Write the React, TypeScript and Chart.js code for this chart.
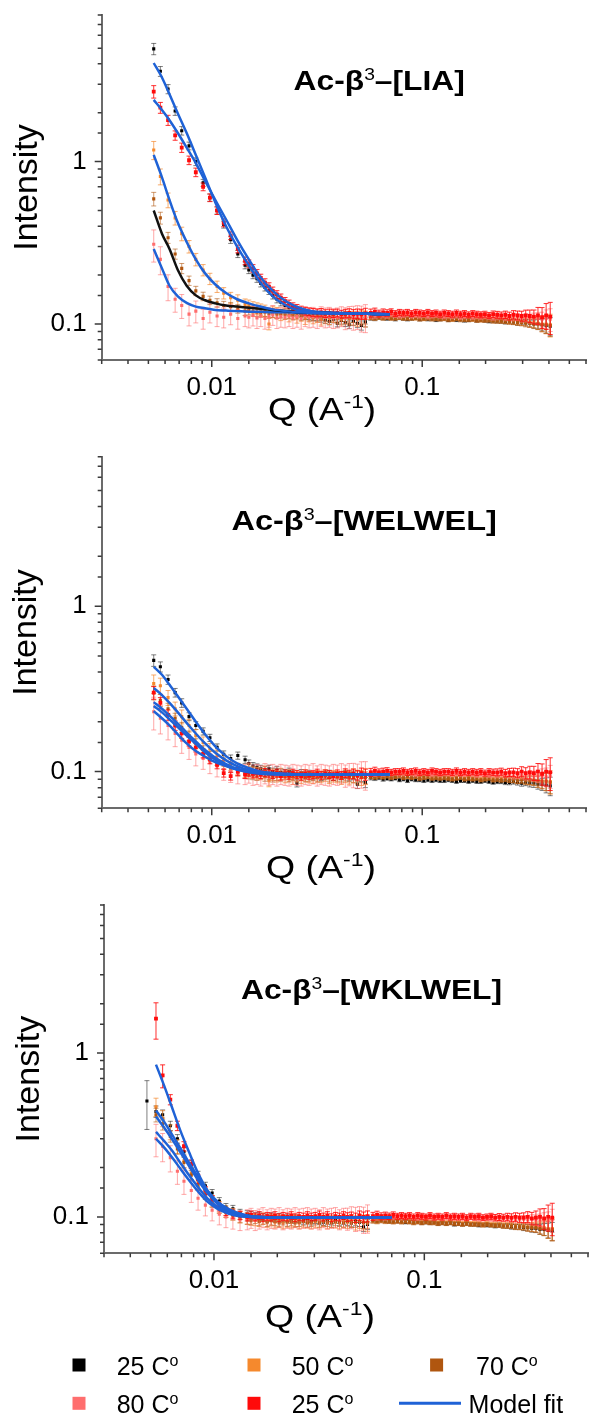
import React, { useEffect, useRef } from 'react';
import { Chart, registerables } from 'chart.js';

Chart.register(...registerables);

const FONT = "'Liberation Sans', Arial, Helvetica, sans-serif";

// ---------- Q grids (Å^-1) ----------
const qLow = [0.0048, 0.0053, 0.0057, 0.0062, 0.0067, 0.0072, 0.0078, 0.0084, 0.0091, 0.0098, 0.0106, 0.0114, 0.0123, 0.0133, 0.0144,
  0.015, 0.0157, 0.0164, 0.0171, 0.0179, 0.0187, 0.0195, 0.0204, 0.0213, 0.0223, 0.0233, 0.0243, 0.0254, 0.0266, 0.0278,
  0.029, 0.0303, 0.0317, 0.0331, 0.0346, 0.0362, 0.0378, 0.0395, 0.0413, 0.0431, 0.045, 0.0471, 0.0492, 0.0514, 0.0537];
const qHigh = [0.057, 0.0596, 0.0623, 0.0652, 0.0681, 0.0712, 0.0745, 0.0779, 0.0814, 0.0851, 0.089, 0.0931, 0.0973, 0.1018, 0.1064,
  0.1113, 0.1163, 0.1216, 0.1272, 0.133, 0.139, 0.1454, 0.152, 0.1589, 0.1662, 0.1738, 0.1817, 0.19, 0.1986, 0.2077,
  0.2172, 0.2271, 0.2374, 0.2483, 0.2596, 0.2714, 0.2838, 0.2968, 0.3103, 0.3245, 0.3393, 0.3548, 0.371, 0.3879, 0.4056];
const qFit = [0.0053, 0.0058, 0.0063, 0.0069, 0.0076, 0.0084, 0.0093, 0.0104, 0.0117, 0.0132, 0.015, 0.017, 0.0195, 0.0225, 0.026, 0.03, 0.035, 0.042, 0.05, 0.06, 0.07];

// relative error scaling along Q
const errLowScale = [3.0, 1.6, 1.4, 1.3, 1.2, 1.2, 1.1, 1.1, 1.0, 1.0, 1.0, 1.0, 1.0, 1.0, 1.0,
  1.0, 1.0, 1.0, 1.0, 1.0, 1.0, 1.0, 1.0, 1.0, 1.0, 1.0, 1.0, 1.0, 1.0, 1.0,
  1.0, 1.0, 1.0, 1.0, 1.0, 1.0, 1.0, 1.0, 1.0, 1.1, 1.1, 1.2, 1.2, 1.3, 1.4];
const errHighScale = [0.8, 0.75, 0.7, 0.7, 0.65, 0.6, 0.6, 0.6, 0.6, 0.6, 0.6, 0.6, 0.6, 0.6, 0.6,
  0.6, 0.6, 0.6, 0.6, 0.6, 0.6, 0.6, 0.6, 0.6, 0.6, 0.6, 0.6, 0.6, 0.6, 0.6,
  0.65, 0.7, 0.7, 0.75, 0.8, 0.85, 0.9, 1.0, 1.1, 1.25, 1.4, 1.7, 2.1, 2.6, 3.2];

// ---------- series meta ----------
const seriesLabels = ['25 C', '50 C', '70 C', '80 C', '25 C'];
const pointColors = ['#000000', '#f5892d', '#b0560f', '#ff6e6e', '#ff0a0a'];
const errColors = ['rgba(0,0,0,0.5)', 'rgba(245,137,45,0.7)', 'rgba(176,86,15,0.6)', 'rgba(255,110,110,0.6)', 'rgba(255,10,10,0.85)'];
const relErrLow = [0.05, 0.08, 0.06, 0.14, 0.055];
const relErrHigh = [0.04, 0.05, 0.045, 0.05, 0.07];
const pointSizes = [2.2, 2.2, 2.2, 2.2, 2.7];
const fitBlue = '#1f62d6';
const fitLabel = 'Model fit';

// ---------- Panel 1: Ac-β3–[LIA] ----------
const lia25Low = [null, 4.95, 3.6, 2.8, 2.05, 1.55, 1.25, 1.0, 0.74, 0.6, 0.5, 0.41, 0.33, 0.27, 0.23,
  0.215, 0.2, 0.19, 0.178, 0.168, 0.16, 0.15, 0.142, 0.136, 0.13, 0.126, 0.121, 0.118, 0.116, 0.113,
  0.112, 0.11, 0.111, 0.108, 0.106, 0.104, 0.107, 0.101, 0.105, 0.102, 0.099, 0.104, 0.101, 0.098, 0.103];
const lia25High = [0.109, 0.108, 0.11, 0.109, 0.108, 0.109, 0.107, 0.109, 0.108, 0.107, 0.108, 0.109, 0.107, 0.108, 0.107,
  0.108, 0.106, 0.107, 0.108, 0.106, 0.107, 0.106, 0.107, 0.105, 0.106, 0.107, 0.105, 0.106, 0.105, 0.104,
  0.105, 0.104, 0.104, 0.103, 0.104, 0.103, 0.102, 0.103, 0.102, 0.101, 0.1, 0.1, 0.099, 0.098, 0.097];
const lia50Low = [null, 1.18, 0.81, 0.58, 0.45, 0.36, 0.3, 0.25, 0.215, 0.19, 0.17, 0.155, 0.145, 0.14, 0.132,
  0.13, 0.127, 0.125, 0.123, 0.121, 0.1, 0.119, 0.117, 0.114, 0.116, 0.112, 0.115, 0.11, 0.113, 0.108,
  0.112, 0.109, 0.111, 0.107, 0.11, 0.108, 0.111, 0.109, 0.107, 0.11, 0.108, 0.109, 0.107, 0.11, 0.108];
const lia50High = [0.111, 0.11, 0.111, 0.11, 0.111, 0.11, 0.109, 0.11, 0.111, 0.109, 0.11, 0.109, 0.11, 0.108, 0.109,
  0.11, 0.108, 0.109, 0.108, 0.109, 0.107, 0.108, 0.109, 0.107, 0.108, 0.107, 0.108, 0.106, 0.107, 0.106,
  0.107, 0.105, 0.106, 0.105, 0.105, 0.104, 0.104, 0.103, 0.103, 0.102, 0.102, 0.101, 0.1, 0.1, 0.099];
const lia70Low = [null, 0.59, 0.45, 0.34, 0.27, 0.22, 0.185, 0.16, 0.148, 0.14, 0.135, 0.13, 0.128, 0.124, 0.12,
  0.121, 0.119, 0.118, 0.117, 0.118, 0.116, 0.117, 0.115, 0.116, 0.114, 0.115, 0.113, 0.114, 0.112, 0.113,
  0.111, 0.112, 0.11, 0.112, 0.111, 0.11, 0.111, 0.109, 0.11, 0.111, 0.109, 0.11, 0.108, 0.11, 0.109];
const lia70High = [0.11, 0.109, 0.11, 0.109, 0.11, 0.108, 0.109, 0.11, 0.108, 0.109, 0.108, 0.109, 0.107, 0.108, 0.109,
  0.107, 0.108, 0.107, 0.108, 0.106, 0.107, 0.108, 0.106, 0.107, 0.106, 0.107, 0.105, 0.106, 0.105, 0.106,
  0.104, 0.105, 0.104, 0.104, 0.103, 0.103, 0.102, 0.102, 0.101, 0.101, 0.1, 0.1, 0.099, 0.099, 0.098];
const lia80Low = [null, 0.31, 0.25, 0.17, 0.142, 0.13, 0.115, 0.12, 0.108, 0.118, 0.112, 0.11, 0.115, 0.108, 0.112,
  0.11, 0.113, 0.109, 0.112, 0.108, 0.111, 0.114, 0.109, 0.111, 0.11, 0.112, 0.109, 0.111, 0.108, 0.112,
  0.11, 0.111, 0.109, 0.112, 0.11, 0.111, 0.109, 0.11, 0.112, 0.109, 0.111, 0.11, 0.111, 0.109, 0.11];
const lia80High = [0.113, 0.112, 0.114, 0.113, 0.112, 0.114, 0.113, 0.112, 0.113, 0.114, 0.112, 0.113, 0.112, 0.113, 0.111,
  0.112, 0.113, 0.112, 0.111, 0.112, 0.111, 0.112, 0.11, 0.111, 0.112, 0.11, 0.111, 0.11, 0.111, 0.11,
  0.109, 0.11, 0.111, 0.109, 0.11, 0.109, 0.11, 0.108, 0.109, 0.108, 0.109, 0.108, 0.107, 0.108, 0.107];
const lia25bLow = [null, 2.7, 2.15, 1.8, 1.45, 1.22, 1.02, 0.86, 0.7, 0.6, 0.5, 0.42, 0.35, 0.29, 0.245,
  0.235, 0.22, 0.205, 0.192, 0.18, 0.17, 0.16, 0.152, 0.145, 0.138, 0.133, 0.128, 0.125, 0.122, 0.12,
  0.119, 0.118, 0.117, 0.118, 0.116, 0.117, 0.116, 0.117, 0.115, 0.116, 0.117, 0.115, 0.116, 0.115, 0.116];
const lia25bHigh = [0.117, 0.119, 0.116, 0.118, 0.117, 0.119, 0.116, 0.118, 0.117, 0.118, 0.116, 0.118, 0.117, 0.116, 0.118,
  0.116, 0.117, 0.115, 0.117, 0.116, 0.115, 0.117, 0.115, 0.116, 0.114, 0.116, 0.115, 0.114, 0.115, 0.113,
  0.115, 0.114, 0.113, 0.114, 0.112, 0.114, 0.113, 0.112, 0.113, 0.112, 0.111, 0.113, 0.11, 0.113, 0.111];
const liaFit25 = [4.05, 3.3, 2.6, 1.98, 1.5, 1.1, 0.8, 0.56, 0.4, 0.3, 0.23, 0.18, 0.148, 0.13, 0.121, 0.118, 0.117, 0.116, 0.116, 0.115, 0.115];
const liaFit50 = [1.1, 0.8, 0.58, 0.42, 0.32, 0.25, 0.205, 0.175, 0.155, 0.142, 0.134, 0.128, 0.123, 0.12, 0.118, 0.117, 0.116, 0.116, 0.116, 0.115, 0.115];
const liaFit70 = [0.5, 0.36, 0.29, 0.215, 0.172, 0.15, 0.14, 0.134, 0.13, 0.128, 0.126, 0.124, 0.122, 0.12, 0.118, 0.117, 0.117, 0.116, 0.116, 0.115, 0.115];
const liaFit80 = [0.29, 0.22, 0.172, 0.148, 0.135, 0.128, 0.125, 0.122, 0.121, 0.12, 0.119, 0.119, 0.118, 0.118, 0.117, 0.117, 0.117, 0.116, 0.116, 0.115, 0.115];
const liaFit25b = [2.4, 2.08, 1.8, 1.5, 1.22, 0.98, 0.76, 0.58, 0.44, 0.33, 0.25, 0.195, 0.16, 0.138, 0.126, 0.12, 0.118, 0.117, 0.116, 0.116, 0.115];

// ---------- Panel 2: Ac-β3–[WELWEL] ----------
const wel25Low = [null, 0.47, 0.43, 0.36, 0.3, 0.26, 0.215, 0.19, 0.175, 0.16, 0.14, 0.127, 0.12, 0.125, 0.118,
  0.112, 0.108, 0.106, 0.104, 0.102, 0.104, 0.1, 0.102, 0.099, 0.098, 0.1, 0.097, 0.085, 0.098, 0.095,
  0.097, 0.094, 0.096, 0.093, 0.095, 0.097, 0.093, 0.095, 0.094, 0.096, 0.093, 0.095, 0.084, 0.093, 0.086];
const wel25High = [0.092, 0.091, 0.092, 0.09, 0.091, 0.09, 0.091, 0.089, 0.09, 0.088, 0.09, 0.089, 0.089, 0.088, 0.089,
  0.088, 0.089, 0.088, 0.088, 0.089, 0.088, 0.087, 0.088, 0.088, 0.087, 0.088, 0.087, 0.087, 0.088, 0.087,
  0.086, 0.087, 0.087, 0.086, 0.086, 0.087, 0.086, 0.085, 0.086, 0.085, 0.085, 0.084, 0.084, 0.083, 0.082];
const wel50Low = [null, 0.34, 0.33, 0.28, 0.24, 0.215, 0.19, 0.165, 0.15, 0.137, 0.125, 0.117, 0.11, 0.104, 0.1,
  0.103, 0.099, 0.098, 0.097, 0.1, 0.088, 0.096, 0.094, 0.097, 0.093, 0.095, 0.091, 0.094, 0.092, 0.095,
  0.093, 0.092, 0.094, 0.093, 0.095, 0.092, 0.094, 0.093, 0.091, 0.094, 0.092, 0.095, 0.093, 0.092, 0.094];
const wel50High = [0.095, 0.094, 0.095, 0.094, 0.095, 0.093, 0.094, 0.095, 0.093, 0.094, 0.093, 0.094, 0.092, 0.093, 0.094,
  0.092, 0.093, 0.092, 0.093, 0.092, 0.091, 0.092, 0.093, 0.091, 0.092, 0.091, 0.092, 0.09, 0.091, 0.092,
  0.09, 0.091, 0.09, 0.091, 0.09, 0.09, 0.089, 0.09, 0.089, 0.089, 0.089, 0.088, 0.088, 0.088, 0.087];
const wel70Low = [null, 0.3, 0.27, 0.24, 0.21, 0.185, 0.165, 0.148, 0.135, 0.125, 0.116, 0.11, 0.105, 0.1, 0.097,
  0.096, 0.095, 0.094, 0.096, 0.093, 0.095, 0.092, 0.094, 0.093, 0.095, 0.092, 0.094, 0.093, 0.094, 0.092,
  0.093, 0.094, 0.092, 0.093, 0.095, 0.092, 0.094, 0.093, 0.092, 0.094, 0.093, 0.092, 0.094, 0.093, 0.092];
const wel70High = [0.094, 0.093, 0.094, 0.093, 0.094, 0.092, 0.093, 0.094, 0.092, 0.093, 0.092, 0.093, 0.091, 0.092, 0.093,
  0.091, 0.092, 0.091, 0.092, 0.091, 0.09, 0.091, 0.092, 0.09, 0.091, 0.09, 0.091, 0.089, 0.09, 0.091,
  0.089, 0.09, 0.089, 0.09, 0.089, 0.089, 0.088, 0.089, 0.088, 0.088, 0.088, 0.087, 0.087, 0.087, 0.086];
const wel80Low = [null, 0.23, 0.21, 0.19, 0.17, 0.155, 0.14, 0.128, 0.12, 0.113, 0.108, 0.103, 0.1, 0.098, 0.097,
  0.099, 0.096, 0.097, 0.095, 0.098, 0.096, 0.097, 0.095, 0.097, 0.096, 0.095, 0.097, 0.096, 0.095, 0.097,
  0.096, 0.098, 0.095, 0.097, 0.096, 0.095, 0.097, 0.096, 0.098, 0.095, 0.097, 0.096, 0.095, 0.097, 0.096];
const wel80High = [0.098, 0.097, 0.098, 0.097, 0.098, 0.097, 0.098, 0.097, 0.097, 0.098, 0.097, 0.096, 0.097, 0.098, 0.097,
  0.096, 0.097, 0.096, 0.097, 0.097, 0.096, 0.097, 0.096, 0.096, 0.097, 0.096, 0.095, 0.096, 0.096, 0.095,
  0.096, 0.095, 0.096, 0.095, 0.095, 0.094, 0.095, 0.095, 0.094, 0.095, 0.094, 0.094, 0.094, 0.093, 0.094];
const wel25bLow = [null, 0.3, 0.26, 0.22, 0.19, 0.17, 0.152, 0.14, 0.128, 0.118, 0.11, 0.098, 0.094, 0.1, 0.096,
  0.099, 0.097, 0.098, 0.096, 0.099, 0.097, 0.096, 0.098, 0.094, 0.097, 0.095, 0.098, 0.096, 0.094, 0.097,
  0.095, 0.096, 0.098, 0.095, 0.097, 0.096, 0.094, 0.097, 0.095, 0.098, 0.096, 0.097, 0.095, 0.098, 0.096];
const wel25bHigh = [0.099, 0.101, 0.099, 0.1, 0.101, 0.099, 0.1, 0.1, 0.101, 0.099, 0.1, 0.101, 0.099, 0.1, 0.099,
  0.101, 0.1, 0.099, 0.1, 0.1, 0.099, 0.101, 0.099, 0.1, 0.099, 0.1, 0.099, 0.1, 0.098, 0.1,
  0.099, 0.099, 0.1, 0.098, 0.099, 0.099, 0.098, 0.1, 0.098, 0.099, 0.098, 0.1, 0.097, 0.1, 0.099];
const welFit25 = [0.43, 0.385, 0.335, 0.285, 0.24, 0.2, 0.168, 0.142, 0.124, 0.112, 0.105, 0.1, 0.098, 0.097, 0.096, 0.096, 0.096, 0.096, 0.096, 0.096, 0.096];
const welFit50 = [0.32, 0.29, 0.26, 0.228, 0.197, 0.17, 0.148, 0.13, 0.117, 0.108, 0.102, 0.099, 0.097, 0.096, 0.096, 0.096, 0.096, 0.096, 0.096, 0.096, 0.096];
const welFit70 = [0.263, 0.24, 0.218, 0.195, 0.172, 0.152, 0.135, 0.121, 0.111, 0.104, 0.1, 0.098, 0.097, 0.096, 0.096, 0.096, 0.096, 0.096, 0.096, 0.096, 0.096];
const welFit80 = [0.232, 0.21, 0.19, 0.168, 0.148, 0.133, 0.123, 0.114, 0.108, 0.103, 0.1, 0.098, 0.097, 0.096, 0.096, 0.096, 0.096, 0.096, 0.096, 0.096, 0.096];
const welFit25b = [0.249, 0.228, 0.207, 0.186, 0.165, 0.147, 0.131, 0.118, 0.109, 0.103, 0.099, 0.097, 0.096, 0.096, 0.096, 0.096, 0.096, 0.096, 0.096, 0.096, 0.096];

// ---------- Panel 3: Ac-β3–[WKLWEL] ----------
const wkl25Low = [0.51, 0.44, 0.42, 0.36, 0.3, 0.25, 0.21, 0.18, 0.155, 0.14, 0.125, 0.115, 0.112, 0.106, 0.104,
  0.103, 0.101, 0.102, 0.1, 0.099, 0.101, 0.098, 0.1, 0.097, 0.099, 0.096, 0.098, 0.097, 0.095, 0.097,
  0.094, 0.096, 0.095, 0.093, 0.095, 0.094, 0.096, 0.093, 0.095, 0.094, 0.092, 0.094, 0.093, 0.087, 0.09];
const wkl25High = [0.096, 0.095, 0.096, 0.095, 0.094, 0.095, 0.094, 0.095, 0.093, 0.094, 0.093, 0.094, 0.092, 0.093, 0.092,
  0.093, 0.091, 0.092, 0.091, 0.092, 0.09, 0.091, 0.09, 0.091, 0.09, 0.09, 0.089, 0.09, 0.089, 0.089,
  0.088, 0.089, 0.088, 0.088, 0.087, 0.087, 0.087, 0.086, 0.086, 0.085, 0.085, 0.084, 0.084, 0.083, 0.082];
const wkl50Low = [null, 0.47, 0.4, 0.33, 0.27, 0.22, 0.185, 0.16, 0.14, 0.125, 0.115, 0.108, 0.104, 0.1, 0.098,
  0.097, 0.096, 0.095, 0.098, 0.094, 0.096, 0.093, 0.095, 0.092, 0.094, 0.093, 0.095, 0.092, 0.094, 0.093,
  0.092, 0.094, 0.093, 0.095, 0.092, 0.094, 0.093, 0.092, 0.094, 0.093, 0.095, 0.092, 0.094, 0.093, 0.092];
const wkl50High = [0.096, 0.095, 0.096, 0.095, 0.095, 0.094, 0.095, 0.094, 0.095, 0.094, 0.093, 0.094, 0.093, 0.094, 0.093,
  0.093, 0.092, 0.093, 0.092, 0.093, 0.092, 0.092, 0.091, 0.092, 0.091, 0.091, 0.091, 0.09, 0.091, 0.09,
  0.09, 0.09, 0.089, 0.089, 0.089, 0.088, 0.088, 0.088, 0.087, 0.087, 0.087, 0.086, 0.086, 0.085, 0.085];
const wkl70Low = [null, 0.42, 0.37, 0.31, 0.26, 0.215, 0.18, 0.155, 0.136, 0.122, 0.112, 0.106, 0.102, 0.098, 0.096,
  0.095, 0.097, 0.094, 0.096, 0.093, 0.095, 0.094, 0.092, 0.095, 0.093, 0.094, 0.092, 0.093, 0.094, 0.092,
  0.093, 0.095, 0.092, 0.094, 0.093, 0.092, 0.094, 0.093, 0.092, 0.094, 0.092, 0.093, 0.094, 0.092, 0.093];
const wkl70High = [0.095, 0.094, 0.095, 0.094, 0.094, 0.093, 0.094, 0.093, 0.094, 0.093, 0.092, 0.093, 0.092, 0.093, 0.092,
  0.092, 0.091, 0.092, 0.091, 0.092, 0.091, 0.091, 0.09, 0.091, 0.09, 0.09, 0.09, 0.089, 0.09, 0.089,
  0.089, 0.089, 0.088, 0.088, 0.088, 0.087, 0.087, 0.087, 0.086, 0.086, 0.086, 0.085, 0.085, 0.084, 0.084];
const wkl80Low = [null, 0.3, 0.27, 0.23, 0.19, 0.165, 0.145, 0.13, 0.118, 0.11, 0.104, 0.1, 0.098, 0.096, 0.097,
  0.099, 0.096, 0.098, 0.1, 0.097, 0.099, 0.098, 0.1, 0.097, 0.099, 0.098, 0.1, 0.098, 0.099, 0.1,
  0.098, 0.099, 0.097, 0.1, 0.098, 0.099, 0.1, 0.097, 0.099, 0.098, 0.1, 0.098, 0.099, 0.097, 0.099];
const wkl80High = [0.1, 0.099, 0.1, 0.099, 0.1, 0.099, 0.1, 0.099, 0.099, 0.1, 0.099, 0.098, 0.099, 0.1, 0.099,
  0.098, 0.099, 0.098, 0.099, 0.099, 0.098, 0.099, 0.098, 0.098, 0.099, 0.098, 0.097, 0.098, 0.098, 0.097,
  0.098, 0.097, 0.098, 0.097, 0.097, 0.096, 0.097, 0.097, 0.096, 0.097, 0.096, 0.096, 0.096, 0.095, 0.096];
const wkl25bLow = [null, 1.62, 0.73, 0.52, 0.36, 0.27, 0.21, 0.17, 0.145, 0.128, 0.115, 0.108, 0.104, 0.102, 0.1,
  0.103, 0.1, 0.102, 0.099, 0.101, 0.1, 0.102, 0.099, 0.101, 0.1, 0.102, 0.099, 0.101, 0.1, 0.102,
  0.1, 0.101, 0.103, 0.1, 0.102, 0.099, 0.101, 0.1, 0.102, 0.1, 0.101, 0.099, 0.102, 0.1, 0.101];
const wkl25bHigh = [0.101, 0.103, 0.101, 0.102, 0.101, 0.103, 0.101, 0.102, 0.101, 0.102, 0.1, 0.102, 0.101, 0.1, 0.102,
  0.1, 0.101, 0.1, 0.102, 0.1, 0.101, 0.1, 0.101, 0.099, 0.101, 0.1, 0.101, 0.099, 0.1, 0.101,
  0.099, 0.1, 0.099, 0.1, 0.099, 0.1, 0.099, 0.099, 0.1, 0.098, 0.099, 0.1, 0.098, 0.1, 0.099];
const wklFit25 = [0.446, 0.38, 0.32, 0.265, 0.215, 0.175, 0.145, 0.124, 0.112, 0.105, 0.101, 0.1, 0.099, 0.099, 0.099, 0.099, 0.099, 0.099, 0.099, 0.099, 0.099];
const wklFit50 = [0.41, 0.35, 0.3, 0.25, 0.205, 0.168, 0.14, 0.121, 0.11, 0.104, 0.101, 0.1, 0.099, 0.099, 0.099, 0.099, 0.099, 0.099, 0.099, 0.099, 0.099];
const wklFit70 = [0.33, 0.29, 0.255, 0.215, 0.18, 0.152, 0.13, 0.115, 0.106, 0.102, 0.1, 0.099, 0.099, 0.099, 0.099, 0.099, 0.099, 0.099, 0.099, 0.099, 0.099];
const wklFit80 = [0.3, 0.265, 0.232, 0.198, 0.168, 0.143, 0.124, 0.112, 0.105, 0.101, 0.1, 0.099, 0.099, 0.099, 0.099, 0.099, 0.099, 0.099, 0.099, 0.099, 0.099];
const wklFit25b = [0.85, 0.63, 0.47, 0.34, 0.25, 0.185, 0.145, 0.12, 0.108, 0.102, 0.1, 0.099, 0.099, 0.099, 0.099, 0.099, 0.099, 0.099, 0.099, 0.099, 0.099];
// [series, low-Q index, relative error]
const wklErrOverrides = [[0, 0, 0.33], [4, 1, 0.25], [4, 2, 0.16]];

// ---------- layout ----------
type Layout = {
  top: number; width: number; height: number; padTop: number; padRight: number;
  yWidth: number; xHeight: number; yTitleX: number;
  xTitleCx: number; xTitleBase: number; xTitleW: number;
  titleX0: number; titleX1: number; titleBase: number; legend: boolean;
};

type Panel = {
  name: string;
  low: (number | null)[][];
  high: number[][];
  fits: number[][];
  fitColors: string[];
  errOverrides: number[][];
  layout: Layout;
};

const panels: Panel[] = [
  {
    name: 'LIA',
    low: [lia25Low, lia50Low, lia70Low, lia80Low, lia25bLow],
    high: [lia25High, lia50High, lia70High, lia80High, lia25bHigh],
    fits: [liaFit25, liaFit50, liaFit70, liaFit80, liaFit25b],
    fitColors: [fitBlue, fitBlue, '#111111', fitBlue, fitBlue],
    errOverrides: [],
    layout: { top: 0, width: 590, height: 440, padTop: 15, padRight: 2.8, yWidth: 101.7, xHeight: 80, yTitleX: 37.3, xTitleCx: 322, xTitleBase: 420, xTitleW: 108, titleX0: 293.6, titleX1: 464.8, titleBase: 90, legend: false },
  },
  {
    name: 'WELWEL',
    low: [wel25Low, wel50Low, wel70Low, wel80Low, wel25bLow],
    high: [wel25High, wel50High, wel70High, wel80High, wel25bHigh],
    fits: [welFit25, welFit50, welFit70, welFit80, welFit25b],
    fitColors: [fitBlue, fitBlue, fitBlue, fitBlue, fitBlue],
    errOverrides: [],
    layout: { top: 440, width: 590, height: 450, padTop: 16.7, padRight: 2.8, yWidth: 101.7, xHeight: 81.7, yTitleX: 35.6, xTitleCx: 321, xTitleBase: 438, xTitleW: 110, titleX0: 231.5, titleX1: 496.8, titleBase: 90, legend: false },
  },
  {
    name: 'WKLWEL',
    low: [wkl25Low, wkl50Low, wkl70Low, wkl80Low, wkl25bLow],
    high: [wkl25High, wkl50High, wkl70High, wkl80High, wkl25bHigh],
    fits: [wklFit25, wklFit50, wklFit70, wklFit80, wklFit25b],
    fitColors: [fitBlue, fitBlue, fitBlue, fitBlue, fitBlue],
    errOverrides: wklErrOverrides,
    layout: { top: 890, width: 592, height: 529, padTop: 15, padRight: 0.6, yWidth: 104, xHeight: 165.7, yTitleX: 39.3, xTitleCx: 320, xTitleBase: 437, xTitleW: 110, titleX0: 241, titleX1: 502, titleBase: 109.3, legend: true },
  },
];

// ---------- helpers ----------
function isPow10(v: number) {
  const l = Math.log10(v);
  return Math.abs(l - Math.round(l)) < 1e-9;
}

type Part = { text: string; font: string; rise?: number };

function drawRich(ctx: CanvasRenderingContext2D, parts: Part[], x: number, base: number, align: 'left' | 'center', targetW?: number) {
  let total = 0;
  const widths = parts.map((p) => {
    ctx.font = p.font;
    const w = ctx.measureText(p.text).width;
    total += w;
    return w;
  });
  const sx = targetW ? targetW / total : 1;
  const start = align === 'center' ? x - (total * sx) / 2 : x;
  ctx.save();
  ctx.translate(start, base);
  ctx.scale(sx, 1);
  ctx.textBaseline = 'alphabetic';
  ctx.textAlign = 'left';
  let cx = 0;
  parts.forEach((p, i) => {
    ctx.font = p.font;
    ctx.fillText(p.text, cx, -(p.rise || 0));
    cx += widths[i];
  });
  ctx.restore();
}

// ---------- plugins ----------
const errorBarPlugin = {
  id: 'errorBars',
  beforeDatasetDraw(chart: any, args: any) {
    const ds = chart.data.datasets[args.index];
    if (!ds.errors) return;
    const { ctx } = chart;
    const x = chart.scales.x;
    const y = chart.scales.y;
    ctx.save();
    ctx.strokeStyle = ds.errorColor;
    ctx.lineWidth = 1;
    ctx.beginPath();
    ds.data.forEach((p: any, i: number) => {
      const e = ds.errors[i];
      const px = x.getPixelForValue(p.x);
      const yTop = y.getPixelForValue(p.y * (1 + e));
      const yBot = y.getPixelForValue(Math.max(p.y * (1 - e), 1e-6));
      ctx.moveTo(px, yTop);
      ctx.lineTo(px, yBot);
      ctx.moveTo(px - 2.5, yTop);
      ctx.lineTo(px + 2.5, yTop);
      ctx.moveTo(px - 2.5, yBot);
      ctx.lineTo(px + 2.5, yBot);
    });
    ctx.stroke();
    ctx.restore();
  },
};

const tickMarkPlugin = {
  id: 'tickMarks',
  afterDraw(chart: any) {
    const { ctx } = chart;
    const x = chart.scales.x;
    const y = chart.scales.y;
    ctx.save();
    ctx.strokeStyle = '#3a3a3a';
    ctx.lineWidth = 1.5;
    ctx.beginPath();
    x.ticks.forEach((t: any) => {
      const px = x.getPixelForValue(t.value);
      const len = isPow10(t.value) ? 7 : 4;
      ctx.moveTo(px, x.top);
      ctx.lineTo(px, x.top + len);
    });
    y.ticks.forEach((t: any) => {
      const py = y.getPixelForValue(t.value);
      const len = isPow10(t.value) ? 7 : 4;
      ctx.moveTo(y.right - len, py);
      ctx.lineTo(y.right, py);
    });
    ctx.stroke();
    ctx.restore();
  },
};

const panelTextPlugin = {
  id: 'panelText',
  afterDraw(chart: any, _args: any, opts: any) {
    const { ctx, chartArea } = chart;
    const L: Layout = opts.layout;
    ctx.save();
    ctx.fillStyle = '#000';
    // y axis title
    ctx.save();
    ctx.font = `34px ${FONT}`;
    ctx.translate(L.yTitleX, (chartArea.top + chartArea.bottom) / 2);
    ctx.rotate(-Math.PI / 2);
    ctx.textAlign = 'center';
    ctx.textBaseline = 'alphabetic';
    ctx.fillText('Intensity', 0, 0);
    ctx.restore();
    // x axis title
    drawRich(ctx, [
      { text: 'Q (A', font: `31px ${FONT}` },
      { text: '-1', font: `19px ${FONT}`, rise: 12 },
      { text: ')', font: `31px ${FONT}` },
    ], L.xTitleCx, L.xTitleBase, 'center', L.xTitleW);
    // panel title
    drawRich(ctx, [
      { text: 'Ac-\u03B2', font: `bold 28px ${FONT}` },
      { text: '3', font: `17px ${FONT}`, rise: 10 },
      { text: '\u2013[' + opts.name + ']', font: `bold 28px ${FONT}` },
    ], L.titleX0, L.titleBase, 'left', L.titleX1 - L.titleX0);

    if (L.legend) {
      const rows = [485, 523.3];
      const items = [
        { kind: 'sq', color: pointColors[0], mx: 79, tx: 116.7, row: 0, label: seriesLabels[0], sup: true },
        { kind: 'sq', color: pointColors[1], mx: 254, tx: 291.7, row: 0, label: seriesLabels[1], sup: true },
        { kind: 'sq', color: pointColors[2], mx: 436.6, tx: 476, row: 0, label: seriesLabels[2], sup: true },
        { kind: 'sq', color: pointColors[3], mx: 79, tx: 116.7, row: 1, label: seriesLabels[3], sup: true },
        { kind: 'sq', color: pointColors[4], mx: 254, tx: 291.7, row: 1, label: seriesLabels[4], sup: true },
        { kind: 'line', color: fitBlue, mx: 430, tx: 468.6, row: 1, label: fitLabel, sup: false },
      ];
      items.forEach((it) => {
        const base = rows[it.row];
        const cy = base - 10;
        if (it.kind === 'sq') {
          ctx.fillStyle = it.color;
          ctx.fillRect(it.mx - 6.5, cy - 6.5, 13, 13);
        } else {
          ctx.strokeStyle = it.color;
          ctx.lineWidth = 3;
          ctx.beginPath();
          ctx.moveTo(399, cy);
          ctx.lineTo(461, cy);
          ctx.stroke();
        }
        ctx.fillStyle = '#000';
        const parts: Part[] = [{ text: it.label, font: `25px ${FONT}` }];
        if (it.sup) parts.push({ text: 'o', font: `16px ${FONT}`, rise: 9.5 });
        drawRich(ctx, parts, it.tx, base, 'left');
      });
    }
    ctx.restore();
  },
};

// ---------- chart config ----------
function buildConfig(panel: Panel): any {
  const L = panel.layout;
  const datasets: any[] = [];
  // model fits (drawn on top)
  panel.fits.forEach((vals, i) => {
    datasets.push({
      label: fitLabel,
      data: qFit.map((q, k) => ({ x: q, y: vals[k] })),
      showLine: true,
      borderColor: panel.fitColors[i],
      backgroundColor: panel.fitColors[i],
      borderWidth: 2.5,
      pointRadius: 0,
      cubicInterpolationMode: 'monotone',
      order: 0,
    });
  });
  // measured series
  for (let s = 0; s < 5; s++) {
    const pts: any[] = [];
    const errs: number[] = [];
    panel.low[s].forEach((v, k) => {
      if (v == null) return;
      pts.push({ x: qLow[k], y: v });
      let e = relErrLow[s] * errLowScale[k];
      panel.errOverrides.forEach((o) => {
        if (o[0] === s && o[1] === k) e = o[2];
      });
      errs.push(e);
    });
    panel.high[s].forEach((v, k) => {
      pts.push({ x: qHigh[k], y: v });
      errs.push(relErrHigh[s] * errHighScale[k]);
    });
    datasets.push({
      label: seriesLabels[s],
      data: pts,
      errors: errs,
      errorColor: errColors[s],
      showLine: false,
      pointStyle: 'rect',
      pointRadius: pointSizes[s],
      pointBorderWidth: 0,
      backgroundColor: pointColors[s],
      borderColor: pointColors[s],
      order: 5 - s,
    });
  }

  const tickFont = { family: FONT, size: 26, lineHeight: 1 };
  const labelCb = (value: any) => {
    const v = Number(value);
    if (!isPow10(v)) return '';
    return v >= 1 ? v.toFixed(0) : v.toFixed(Math.round(-Math.log10(v)));
  };

  return {
    type: 'scatter',
    data: { datasets },
    options: {
      animation: false,
      responsive: false,
      maintainAspectRatio: false,
      events: [],
      layout: { padding: { left: 0, right: L.padRight, top: L.padTop, bottom: 0 } },
      plugins: {
        legend: { display: false },
        tooltip: { enabled: false },
        panelText: { layout: L, name: panel.name },
      },
      scales: {
        x: {
          type: 'logarithmic',
          min: 0.003,
          max: 0.6,
          grid: { display: false, drawTicks: true, tickLength: 14.5 },
          border: { display: true, color: '#6b6b6b', width: 2 },
          ticks: { autoSkip: false, maxRotation: 0, minRotation: 0, padding: 0, color: '#000', font: tickFont, callback: labelCb },
          afterFit: (s: any) => { s.height = L.xHeight; },
        },
        y: {
          type: 'logarithmic',
          min: 0.06,
          max: 8,
          grid: { display: false, drawTicks: true, tickLength: 15 },
          border: { display: true, color: '#6b6b6b', width: 2 },
          ticks: { autoSkip: false, padding: 0, color: '#000', font: tickFont, callback: labelCb },
          afterFit: (s: any) => { s.width = L.yWidth; },
        },
      },
    },
    plugins: [errorBarPlugin, tickMarkPlugin, panelTextPlugin],
  };
}

function PanelChart({ panel }: { panel: Panel }) {
  const ref = useRef<HTMLCanvasElement>(null);
  useEffect(() => {
    const chart = new Chart(ref.current as HTMLCanvasElement, buildConfig(panel));
    return () => chart.destroy();
  }, [panel]);
  const L = panel.layout;
  return (
    <canvas
      ref={ref}
      width={L.width}
      height={L.height}
      style={{ position: 'absolute', left: 0, top: L.top, width: L.width, height: L.height, display: 'block' }}
    />
  );
}

export default function App() {
  return (
    <div style={{ position: 'absolute', left: 0, top: 0, width: 590, height: 1419, overflow: 'hidden', background: '#ffffff' }}>
      {panels.map((p, i) => (
        <PanelChart key={i} panel={p} />
      ))}
    </div>
  );
}
